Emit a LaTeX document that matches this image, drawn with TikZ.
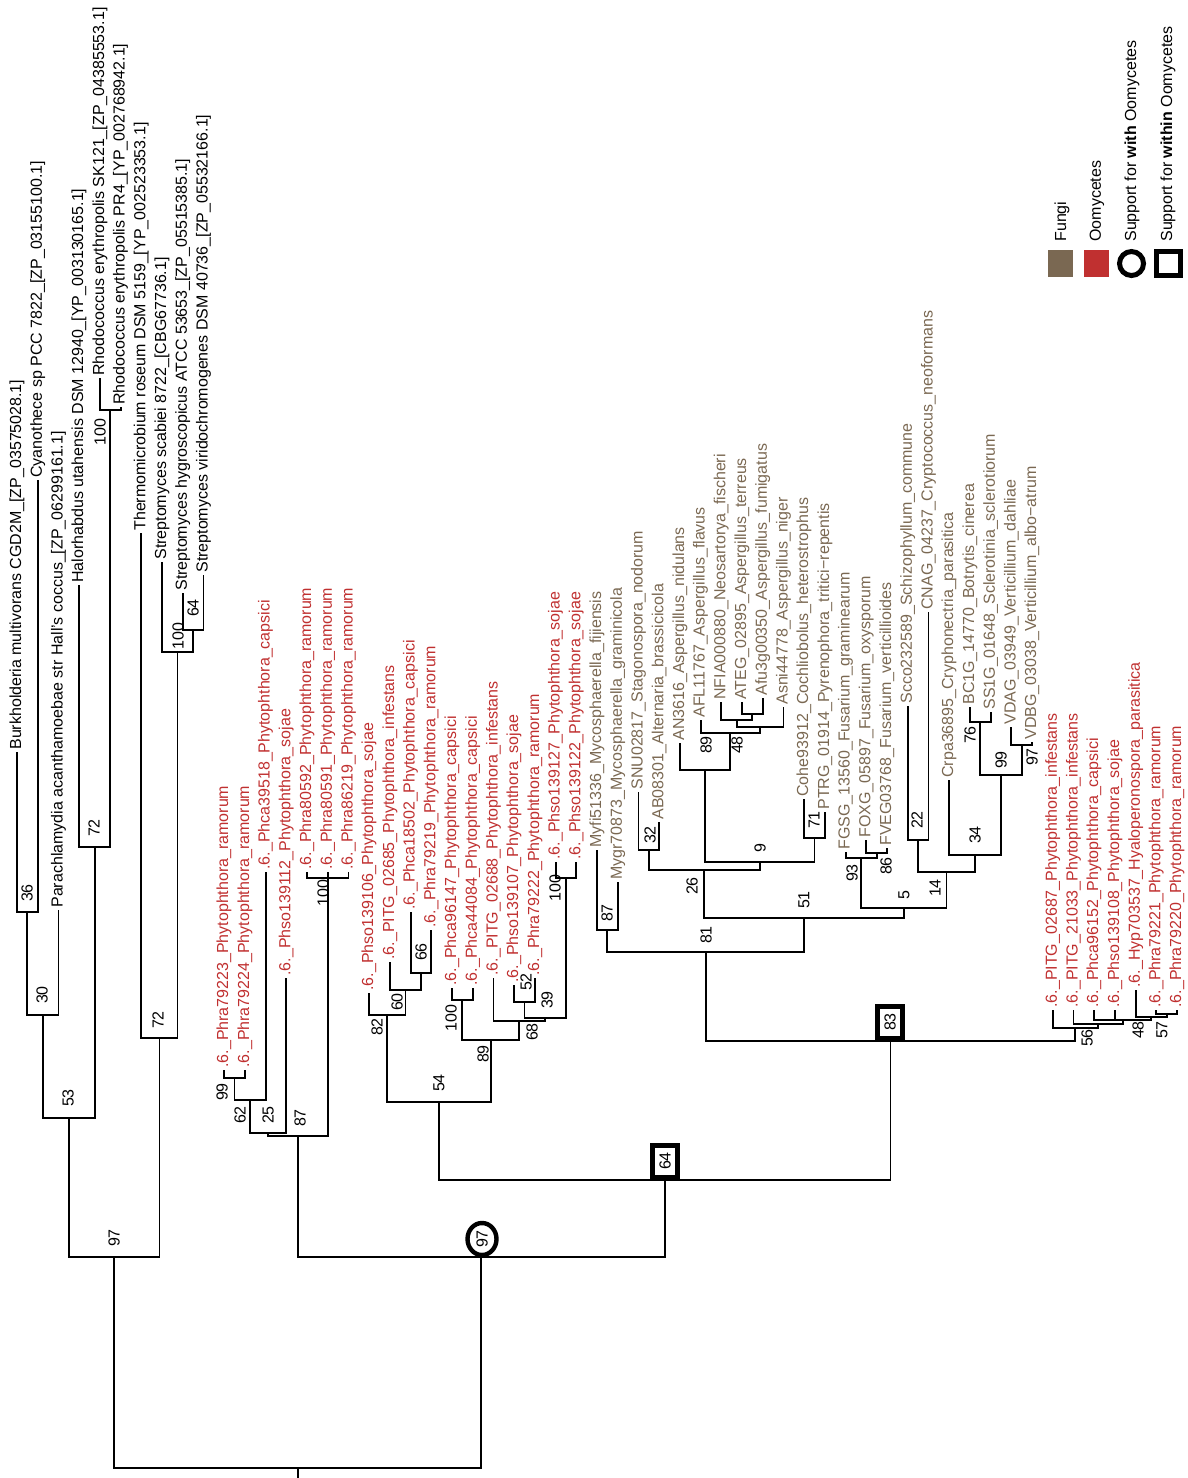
\documentclass[tikz,border=0pt]{standalone}
\usepackage{fontspec}
\setmainfont{Liberation Sans}
\usepackage{tikz}
\usetikzlibrary{shapes.geometric}
\definecolor{fungicol}{RGB}{122,104,82}
\definecolor{oomycol} {RGB}{192,48,48}
\newcommand{\treefont}{\fontsize{8.0}{9.5}\selectfont}

\begin{document}
\begin{tikzpicture}[x=0.5pt,y=-0.5pt,
  br/.style   ={line width=0.9pt},
  leaf/.style ={rotate=90,anchor=west,inner sep=1pt,font=\treefont},
  bact/.style ={leaf,text=black},
  oomy/.style ={leaf,text=oomycol},
  fung/.style ={leaf,text=fungicol},
  boot/.style ={rotate=90,inner sep=0pt,font=\treefont},
  ring/.style ={boot,ellipse,draw,fill=white,line width=2.2pt,
                minimum width=16pt,minimum height=14.5pt},
  sqbox/.style={boot,rectangle,draw,fill=white,line width=2.5pt,
                minimum width=16pt,minimum height=12.5pt},
  swatch/.style={rectangle,inner sep=0pt,minimum width=12.5pt,minimum height=13.5pt},
  keytxt/.style={rotate=90,anchor=west,inner sep=0pt,font=\treefont}
]
\useasboundingbox (0,0) rectangle (1188,1478);

% bacteria
\node[bact] (b1)  at (17.0, 752) {Burkholderia multivorans CGD2M\_[ZP\_03575028.1]};
\node[bact] (b2)  at (37.7, 480) {Cyanothece sp PCC 7822\_[ZP\_03155100.1]};
\node[bact] (b3)  at (58.4, 910) {Parachlamydia acanthamoebae str Hall's coccus\_[ZP\_06299161.1]};
\node[bact] (b4)  at (79.1, 585) {Halorhabdus utahensis DSM 12940\_[YP\_003130165.1]};
\node[bact] (b5)  at (99.9, 378) {Rhodococcus erythropolis SK121\_[ZP\_04385553.1]};
\node[bact] (b6)  at (120.6,407) {Rhodococcus erythropolis PR4\_[YP\_002768942.1]};
\node[bact] (b7)  at (141.3,533) {Thermomicrobium roseum DSM 5159\_[YP\_002523353.1]};
\node[bact] (b8)  at (162.0,562) {Streptomyces scabiei 8722\_[CBG67736.1]};
\node[bact] (b9)  at (182.7,593) {Streptomyces hygroscopicus ATCC 53653\_[ZP\_05515385.1]};
\node[bact] (b10) at (203.4,575) {Streptomyces viridochromogenes DSM 40736\_[ZP\_05532166.1]};

% oomycetes, first groups
\node[oomy] (o1)  at (224.1,1070) {.6.\_Phra79223\_Phytophthora\_ramorum};
\node[oomy] (o2)  at (244.9,1070) {.6.\_Phra79224\_Phytophthora\_ramorum};
\node[oomy] (o3)  at (265.6, 872) {.6.\_Phca39518\_Phytophthora\_capsici};
\node[oomy] (o4)  at (286.3, 978) {.6.\_Phso139112\_Phytophthora\_sojae};
\node[oomy] (o5)  at (307.0, 872) {.6.\_Phra80592\_Phytophthora\_ramorum};
\node[oomy] (o6)  at (327.7, 872) {.6.\_Phra80591\_Phytophthora\_ramorum};
\node[oomy] (o7)  at (348.4, 872) {.6.\_Phra86219\_Phytophthora\_ramorum};
\node[oomy] (o8)  at (369.1, 993) {.6.\_Phso139106\_Phytophthora\_sojae};
\node[oomy] (o9)  at (389.9, 962) {.6.\_PITG\_02685\_Phytophthora\_infestans};
\node[oomy] (o10) at (410.6, 912) {.6.\_Phca18502\_Phytophthora\_capsici};
\node[oomy] (o11) at (431.3, 930) {.6.\_Phra79219\_Phytophthora\_ramorum};
\node[oomy] (o12) at (452.0, 988) {.6.\_Phca96147\_Phytophthora\_capsici};
\node[oomy] (o13) at (472.7, 988) {.6.\_Phca44084\_Phytophthora\_capsici};
\node[oomy] (o14) at (493.4, 978) {.6.\_PITG\_02688\_Phytophthora\_infestans};
\node[oomy] (o15) at (514.1, 985) {.6.\_Phso139107\_Phytophthora\_sojae};
\node[oomy] (o16) at (534.9, 978) {.6.\_Phra79222\_Phytophthora\_ramorum};
\node[oomy] (o17) at (555.6, 862) {.6.\_Phso139127\_Phytophthora\_sojae};
\node[oomy] (o18) at (576.3, 862) {.6.\_Phso139122\_Phytophthora\_sojae};

% fungi
\node[fung] (f1)  at (597.0, 850) {Myfi51336\_Mycosphaerella\_fijiensis};
\node[fung] (f2)  at (617.7, 882) {Mygr70873\_Mycosphaerella\_graminicola};
\node[fung] (f3)  at (638.4, 792) {SNU02817\_Stagonospora\_nodorum};
\node[fung] (f4)  at (659.1, 822) {AB08301\_Alternaria\_brassicicola};
\node[fung] (f5)  at (679.9, 743) {AN3616\_Aspergillus\_nidulans};
\node[fung] (f6)  at (700.6, 720) {AFL11767\_Aspergillus\_flavus};
\node[fung] (f7)  at (721.3, 702) {NFIA000880\_Neosartorya\_fischeri};
\node[fung] (f8)  at (742.0, 702) {ATEG\_02895\_Aspergillus\_terreus};
\node[fung] (f9)  at (762.7, 698) {Afu3g00350\_Aspergillus\_fumigatus};
\node[fung] (f10) at (783.4, 707) {Asni44778\_Aspergillus\_niger};
\node[fung] (f11) at (804.1, 799) {Cohe93912\_Cochliobolus\_heterostrophus};
\node[fung] (f12) at (824.9, 812) {PTRG\_01914\_Pyrenophora\_tritici−repentis};
\node[fung] (f13) at (845.6, 852) {FGSG\_13560\_Fusarium\_graminearum};
\node[fung] (f14) at (866.3, 840) {FOXG\_05897\_Fusarium\_oxysporum};
\node[fung] (f15) at (887.0, 848) {FVEG03768\_Fusarium\_verticillioides};
\node[fung] (f16) at (907.7, 706) {Scco232589\_Schizophyllum\_commune};
\node[fung] (f17) at (928.4, 612) {CNAG\_04237\_Cryptococcus\_neoformans};
\node[fung] (f18) at (949.1, 780) {Crpa36895\_Cryphonectria\_parasitica};
\node[fung] (f19) at (969.9, 707) {BC1G\_14770\_Botrytis\_cinerea};
\node[fung] (f20) at (990.6, 712) {SS1G\_01648\_Sclerotinia\_sclerotiorum};
\node[fung] (f21) at (1011.3,727) {VDAG\_03949\_Verticillium\_dahliae};
\node[fung] (f22) at (1032.0,742) {VDBG\_03038\_Verticillium\_albo−atrum};

% oomycetes, last group
\node[oomy] (o19) at (1052.7,1010) {.6.\_PITG\_02687\_Phytophthora\_infestans};
\node[oomy] (o20) at (1073.4,1010) {.6.\_PITG\_21033\_Phytophthora\_infestans};
\node[oomy] (o21) at (1094.1,1010) {.6.\_Phca96152\_Phytophthora\_capsici};
\node[oomy] (o22) at (1114.9,1010) {.6.\_Phso139108\_Phytophthora\_sojae};
\node[oomy] (o23) at (1135.6, 990) {.6.\_Hyp703537\_Hyaloperonospora\_parasitica};
\node[oomy] (o24) at (1156.3,1010) {.6.\_Phra79221\_Phytophthora\_ramorum};
\node[oomy] (o25) at (1177.0,1010) {.6.\_Phra79220\_Phytophthora\_ramorum};

% internal nodes
\coordinate (nr)     at (297.7,1468);
\coordinate (rt)     at (297.7,1478);
\coordinate (nb36)   at (27.35, 912);
\coordinate (nb30)   at (42.9, 1015);
\coordinate (nb53)   at (68.8, 1118);
\coordinate (nb72a)  at (94.7,  847);
\coordinate (nb100a) at (110.25,410);
\coordinate (nb97)   at (114.1, 1257);
\coordinate (nb72b)  at (159.4, 1038);
\coordinate (nb100b) at (177.5,  652);
\coordinate (nb64)   at (193.05, 630);

\coordinate (nc97)   at (481.35,1257);
\coordinate (no87)   at (297.95,1136);
\coordinate (no25)   at (268.2, 1133);
\coordinate (no62)   at (250.05,1100);
\coordinate (no99)   at (234.5, 1078);
\coordinate (no100a) at (327.7,  878);
\coordinate (no64)   at (664.75,1180);
\coordinate (no54)   at (439.0, 1102);
\coordinate (no82)   at (387.25,1015);
\coordinate (no60)   at (405.4,  990);
\coordinate (no66)   at (420.95, 973);
\coordinate (no89)   at (490.8, 1040);
\coordinate (no100b) at (462.35,1000);
\coordinate (no68)   at (519.3, 1021);
\coordinate (no39)   at (545.2, 1018);
\coordinate (no52)   at (524.5, 1002);
\coordinate (no100c) at (565.95, 878);

\coordinate (nf83)   at (890.5, 1041);
\coordinate (nf81)   at (705.7,  952);
\coordinate (nf87)   at (607.35, 930);
\coordinate (nf51)   at (804.05, 918);
\coordinate (nf26)   at (704.3,  870);
\coordinate (nf32)   at (648.75, 850);
\coordinate (nf9)    at (759.8,  862);
\coordinate (nfY)    at (705.1,  770);
\coordinate (nfX)    at (730.35, 733);
\coordinate (nfS)    at (760.1,  727);
\coordinate (nfR)    at (736.8,  720);
\coordinate (nfP)    at (752.35, 714);
\coordinate (nf71)   at (814.5,  838);
\coordinate (nf5)    at (903.8,  908);
\coordinate (nf93)   at (861.1,  858);
\coordinate (nf86)   at (876.65, 853);
\coordinate (nf14)   at (946.5,  872);
\coordinate (nf22)   at (918.05, 840);
\coordinate (nf34)   at (975.0,  855);
\coordinate (nf99)   at (1000.95,775);
\coordinate (nf76)   at (980.25, 722);
\coordinate (nf97)   at (1021.65,745);

\coordinate (no56)   at (1075.35,1028);
\coordinate (noW)    at (1098.0, 1024);
\coordinate (noV)    at (1122.6, 1020);
\coordinate (no48)   at (1151.1, 1017);
\coordinate (no57)   at (1166.65,1014);

% branches to leaves
\foreach \s/\d in {nb36/b1,nb36/b2,nb30/b3,nb72a/b4,nb100a/b5,nb100a/b6,nb72b/b7,
    nb100b/b8,nb64/b9,nb64/b10,
    no99/o1,no99/o2,no62/o3,no25/o4,no100a/o5,no100a/o6,no100a/o7,
    no82/o8,no60/o9,no66/o10,no66/o11,no100b/o12,no100b/o13,no68/o14,
    no52/o15,no52/o16,no100c/o17,no100c/o18,
    nf87/f1,nf87/f2,nf32/f3,nf32/f4,nfY/f5,nfX/f6,nfR/f7,nfP/f8,nfP/f9,nfS/f10,
    nf71/f11,nf71/f12,nf93/f13,nf86/f14,nf86/f15,nf22/f16,nf22/f17,nf34/f18,
    nf76/f19,nf76/f20,nf97/f21,nf97/f22,
    no56/o19,noW/o20,noV/o21,noV/o22,no48/o23,no57/o24,no57/o25}
  \draw[br] (\s) -| (\d.west);
% branches between inner nodes
\foreach \s/\d in {nb30/nb36,nb53/nb30,nb53/nb72a,nb72a/nb100a,nb97/nb53,nb97/nb72b,
    nb72b/nb100b,nb100b/nb64,nr/nb97,nr/nc97,
    nc97/no87,nc97/no64,no87/no25,no87/no100a,no25/no62,no62/no99,
    no64/no54,no64/nf83,no54/no82,no54/no89,no82/no60,no60/no66,
    no89/no100b,no89/no68,no68/no39,no39/no52,no39/no100c,
    nf83/nf81,nf83/no56,nf81/nf87,nf81/nf51,nf51/nf26,nf51/nf5,nf26/nf32,nf26/nf9,
    nf9/nfY,nf9/nf71,nfY/nfX,nfX/nfS,nfS/nfR,nfR/nfP,nf5/nf93,nf5/nf14,nf93/nf86,
    nf14/nf22,nf14/nf34,nf34/nf99,nf99/nf76,nf99/nf97,
    no56/noW,noW/noV,noV/no48,no48/no57}
  \draw[br] (\s) -| (\d);
\draw[br] (nr) -- (rt);

% support values
\node[boot] (tb36)   at (27, 893)   {36};
\node[boot] (tb30)   at (42, 995)   {30};
\node[boot] (tb53)   at (68, 1098)  {53};
\node[boot] (tb72a)  at (94, 828)   {72};
\node[boot] (tb100a) at (100, 432)  {100};
\node[boot] (tb97)   at (114, 1238) {97};
\node[boot] (tb72b)  at (158, 1020) {72};
\node[boot] (tb100b) at (178, 636)  {100};
\node[boot] (tb64)   at (193, 608)  {64};
\node[boot] (to99)   at (222, 1092) {99};
\node[boot] (to62)   at (240, 1115) {62};
\node[boot] (to25)   at (268, 1115) {25};
\node[boot] (to87)   at (300, 1118) {87};
\node[boot] (to100a) at (323, 893)  {100};
\node[boot] (to82)   at (377, 1027) {82};
\node[boot] (to60)   at (397, 1002) {60};
\node[boot] (to66)   at (421, 952)  {66};
\node[boot] (to54)   at (439, 1083) {54};
\node[boot] (to100b) at (451, 1018) {100};
\node[boot] (to89)   at (483, 1054) {89};
\node[boot] (to52)   at (526, 982)  {52};
\node[boot] (to39)   at (547, 1000) {39};
\node[boot] (to68)   at (532, 1032) {68};
\node[boot] (to100c) at (555, 888)  {100};
\node[boot] (tf87)   at (607, 913)  {87};
\node[boot] (tf32)   at (650, 835)  {32};
\node[boot] (tf26)   at (692, 886)  {26};
\node[boot] (tfY)    at (706, 745)  {89};
\node[boot] (tfX)    at (737, 745)  {48};
\node[boot] (tf9)    at (760, 848)  {9};
\node[boot] (tf81)   at (706, 935)  {81};
\node[boot] (tf71)   at (814, 820)  {71};
\node[boot] (tf51)   at (804, 900)  {51};
\node[boot] (tf93)   at (852, 873)  {93};
\node[boot] (tf86)   at (886, 866)  {86};
\node[boot] (tf5)    at (904, 895)  {5};
\node[boot] (tf22)   at (917, 820)  {22};
\node[boot] (tf14)   at (935, 888)  {14};
\node[boot] (tf76)   at (970, 735)  {76};
\node[boot] (tf34)   at (975, 835)  {34};
\node[boot] (tf99)   at (1001, 760) {99};
\node[boot] (tf97)   at (1032, 757) {97};
\node[boot] (to56)   at (1087, 1038) {56};
\node[boot] (to48)   at (1138, 1030) {48};
\node[boot] (to57)   at (1162, 1030) {57};

\node[ring]  (mc97) at (482, 1239) {97};
\node[sqbox] (mo64) at (665, 1161) {64};
\node[sqbox] (mf83) at (890, 1022) {83};

% key
\node[swatch,fill=fungicol] (kf) at (1060.5,263.5) {};
\node[swatch,fill=oomycol]  (ko) at (1096,263.5) {};
\node[circle,draw,line width=2.5pt,minimum size=12pt,inner sep=0pt] (kc) at (1131.5,263.5) {};
\node[rectangle,draw,line width=2.5pt,minimum size=12pt,inner sep=0pt] (kb) at (1168.5,263) {};
\node[keytxt] (kft) at (1062,242) {Fungi};
\node[keytxt] (kot) at (1097,242) {Oomycetes};
\node[keytxt] (kct) at (1132,242) {Support for \textbf{with} Oomycetes};
\node[keytxt] (kbt) at (1168,242) {Support for \textbf{within} Oomycetes};
\end{tikzpicture}
\end{document}
